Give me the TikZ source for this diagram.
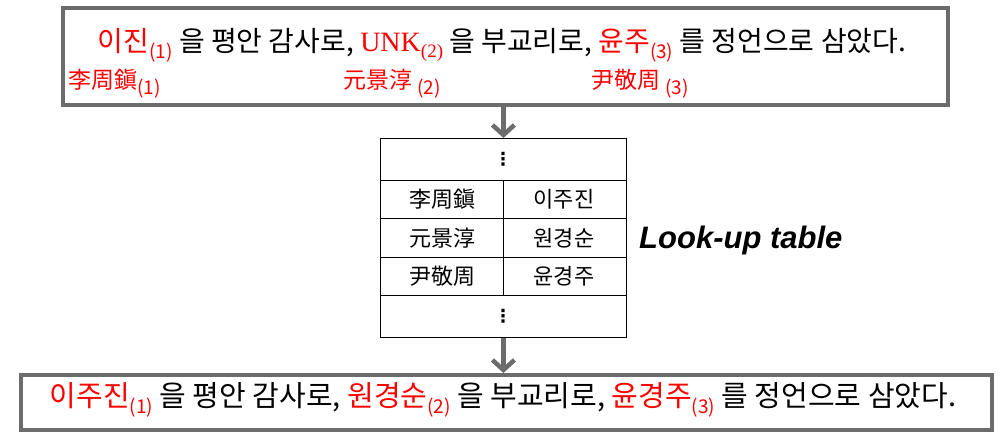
\documentclass[tikz,border=0pt]{standalone}
\usepackage{fontspec}
\setmainfont{Noto Sans CJK KR}
\newfontfamily\serifx{Liberation Serif}
\newfontfamily\lkfont{Liberation Sans}
\newfontfamily\dv{DejaVu Sans}
\usetikzlibrary{arrows.meta}
\newcommand{\sbx}[1]{\raisebox{-0.45ex}{\fontsize{19}{19}\selectfont #1}}
\newcommand{\rd}[1]{\textcolor{red}{#1}}
\begin{document}
\begin{tikzpicture}[x=1pt,y=-1pt,
  frame/.style={draw=gray!85!black,line width=3.5pt},
  cell/.style={draw=black,line width=0.8pt},
  conn/.style={draw=gray!85!black,line width=5pt,-{Straight Barb[length=10pt,width=22pt,line width=4.5pt]}},
  kor/.style={font=\fontsize{28}{30}\selectfont,inner sep=0pt},
  han/.style={font=\fontsize{23}{25}\selectfont,text=red,inner sep=0pt,anchor=west},
  tab/.style={font=\fontsize{22}{24}\selectfont,inner sep=0pt}]
\useasboundingbox (0,0) rectangle (1008,440);
\node[frame,minimum width=885pt,minimum height=97pt,anchor=north west,inner sep=0pt] (top) at (61,6) {};
\node[kor] (l1) at (502,45) {\rd{이진\sbx{(1)}} 을 평안 감사로, \rd{\serifx UNK\sbx{(2)}} 을 부교리로, \rd{윤주\sbx{(3)}} 를 정언으로 삼았다.};
\node[han] (h1) at (68,84) {李周鎭\sbx{(1)}};
\node[han] (h2) at (343,84) {元景淳 \sbx{(2)}};
\node[han] (h3) at (591,84) {尹敬周 \sbx{(3)}};
\node[cell,minimum width=246pt,minimum height=199pt,anchor=north west,inner sep=0pt] (tbl) at (380,138) {};
\draw[cell] (380,180) -- (626,180) (380,218) -- (626,218) (380,257) -- (626,257) (380,295) -- (626,295);
\draw[cell] (503,180) -- (503,295);
\node[tab,font=\dv\bfseries\fontsize{18}{20}\selectfont] (d1) at (503,159) {⋮};
\node[tab,font=\dv\bfseries\fontsize{18}{20}\selectfont] (d2) at (503,316) {⋮};
\node[tab] (a1) at (442,199) {李周鎭};
\node[tab] (b1) at (564,199) {이주진};
\node[tab] (a2) at (442,238) {元景淳};
\node[tab] (b2) at (564,238) {원경순};
\node[tab] (a3) at (442,276) {尹敬周};
\node[tab] (b3) at (564,276) {윤경주};
\node[font=\lkfont\bfseries\itshape\fontsize{31}{34}\selectfont,anchor=west,inner sep=0pt] (lk) at (639,240) {Look-up table};
\node[frame,minimum width=971pt,minimum height=55pt,anchor=north west,inner sep=0pt] (bot) at (19,373) {};
\node[kor,font=\fontsize{29}{31}\selectfont] (l2) at (503,400) {\rd{이주진\sbx{(1)}} 을 평안 감사로, \rd{원경순\sbx{(2)}} 을 부교리로, \rd{윤경주\sbx{(3)}} 를 정언으로 삼았다.};
\draw[conn] (top.south -| tbl.north) -- (tbl.north);
\draw[conn] (tbl.south) -- (bot.north -| tbl.south);
\end{tikzpicture}
\end{document}
